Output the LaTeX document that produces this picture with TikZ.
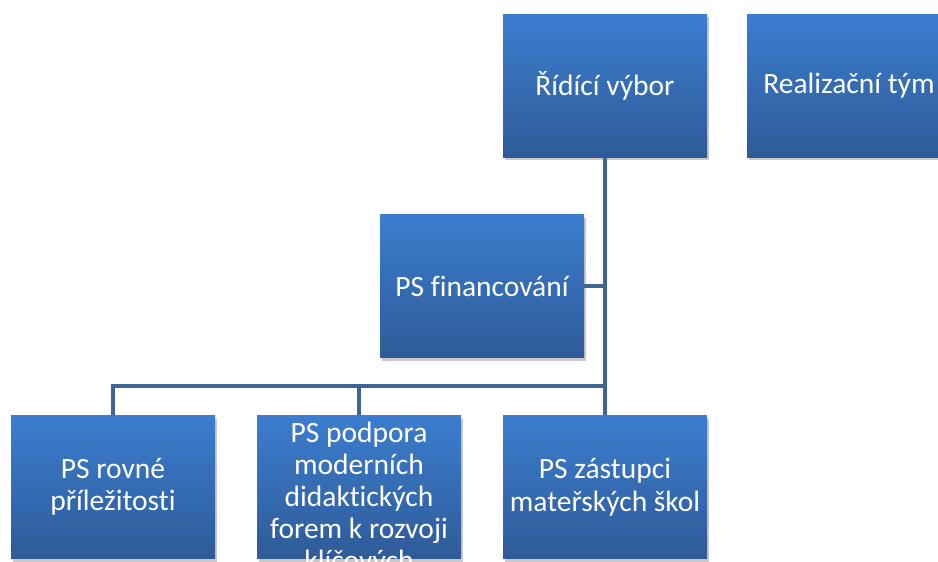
\documentclass[tikz,border=0pt]{standalone}
\usepackage{fontspec}
\setmainfont{Carlito}[Ligatures=NoCommon]
\usetikzlibrary{shadows}
\definecolor{boxtop}{HTML}{3B7DCF}
\definecolor{boxbot}{HTML}{2F5B98}
\definecolor{conn}{HTML}{3D6596}
\tikzset{
  orgbox/.style={rectangle, minimum width=204pt, minimum height=143pt,
    top color=boxtop, bottom color=boxbot, draw=none,
    drop shadow={shadow xshift=1.5pt, shadow yshift=-3pt, opacity=0.35, fill=black!60},
    text=white, font=\fontsize{29.5}{32.5}\selectfont, align=center, inner sep=0pt},
  btext/.style={text=white, font=\fontsize{29.5}{32}\selectfont, align=center, inner sep=0pt},
  link/.style={draw=conn, line width=4.5pt}
}
\begin{document}
\begin{tikzpicture}[x=1pt,y=-1pt]
\useasboundingbox (0,0) rectangle (938,562);
\clip (0,0) rectangle (938,562);
\fill[white] (0,0) rectangle (938,562);
% connectors first
\coordinate (j) at (605,386);
\coordinate (rvs) at (605,157);
\coordinate (b1n) at (113,416);
\coordinate (b2n) at (359,416);
\coordinate (b3n) at (605,416);
\coordinate (fine) at (584,286);
\coordinate (finj) at (605,286);
\draw[link] (rvs) -- (b3n);
\draw[link] (j) -| (b1n);
\draw[link] (b2n) -- (b2n |- j);
\draw[link] (fine) -- (finj);
% boxes
\node[orgbox] (rv) at (605,85.5) {Řídící výbor};
\node[orgbox] (rt) at (849,85.5) {Realizační tým};
\node[orgbox] (fin) at (482,286) {PS financování};
\node[orgbox] (b1) at (113,487) {PS rovné\\příležitosti};
\node[orgbox] (b2) at (359,487) {};
\node[btext] (b2t) at (359,499) {PS podpora\\moderních\\didaktických\\forem k rozvoji\\klíčových};
\node[orgbox] (b3) at (605,487) {PS zástupci\\mateřských škol};
\end{tikzpicture}
\end{document}
